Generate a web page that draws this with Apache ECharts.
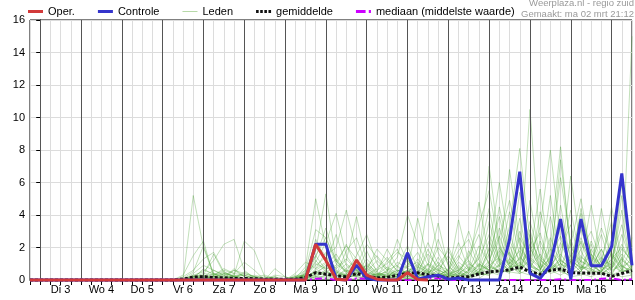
<!DOCTYPE html>
<html><head><meta charset="utf-8">
<script src="https://cdn.jsdelivr.net/npm/echarts@6/dist/echarts.min.js"></script>
<style>html,body{margin:0;padding:0;background:#fff}#c{width:635px;height:300px}</style>
</head><body><div id="c"></div>
<script>
// time axis: hours since Di 3 00:00, one value every 6 hours from -6 (ma 2 18:00)
const startHour = -6, stepHours = 6;
const dayLabels = ['Di 3','Wo 4','Do 5','Vr 6','Za 7','Zo 8','Ma 9','Di 10','Wo 11','Do 12','Vr 13','Za 14','Zo 15','Ma 16'];
const dayStarts = [0,24,48,72,96,120,144,168,192,216,240,264,288,312,336];
const yTicks = [0,2,4,6,8,10,12,14,16];
const headerLines = ['Weerplaza.nl - regio zuid', 'Gemaakt: ma 02 mrt 21:12'];

const oper = [0,0,0,0,0,0,0,0,0,0, 0,0,0,0,0,0,0,0,0,0, 0,0,0,0,0,0,0,0,
  2.2,1.2,0.05,0,1.23,0.3,0.05,0,0,0.45,0.03,0];
const controle = [0,0,0,0,0,0,0,0,0,0, 0,0,0,0,0,0,0,0,0,0, 0,0,0,0,0,0,0,0,
  2.2,2.2,0.05,0,0.92,0.1,0,0,0,1.68,0.05,0.2,0.3,0.05,0.12,0,0,0,0,2.5,
  6.67,0.41,0.1,0.92,3.75,0.05,3.75,0.88,0.88,2.05,6.56,0.9];
const gemiddelde = [0,0,0,0,0,0,0,0,0,0,0,0,0,0,0,
  0.06,0.18,0.2,0.15,0.13,0.1,0.1,0.08,0.05,0.05,0.05,
  0.05,0.15,0.45,0.36,0.25,0.2,0.4,0.25,0.13,0.17,0.28,0.42,
  0.45,0.32,0.25,0.12,0.18,0.2,0.38,0.5,0.55,0.62,
  0.8,0.5,0.35,0.6,0.68,0.45,0.43,0.42,0.42,0.22,0.4,0.58];
const mediaan = [0,0,0,0,0,0,0,0,0,0,0,0,0,0,0,
  0,0,0,0,0,0,0,0,0,0,0,
  0,0,0.08,0.1,0,0,0.1,0.08,0,0,0,0,
  0,0.12,0.1,0,0,0,0,0,0,0,
  0,0,0,0,0.05,0,0,0,0.08,0.1,0,0.05];

const lid01 = [0,0,0,0,0,0,0,0,0,0,0,0,0,0,0, 0,5.2,2.0,0.3,0.1,0,0,0,0,0,0, 0.1,0.8,5.0,2.0,0.5,0.3,0.6,0.2,0.1,0.3,0.2,0.1, 0.2,0.4,1.1,0.3,0.2,0.6,1.4,7.0,2.2,0.8, 1.3,10.5,2.1,0.9,1.6,0.7,2.4,1.1,0.4,0.8,2.2,1.0];
const lid02 = [0,0,0,0,0,0,0,0,0,0,0,0,0,0,0, 0.3,1.5,2.4,0.2,0.1,0.3,0,0,0,0,0, 0,0.5,1.8,5.3,1.2,0.4,0.2,1.0,0.5,0.2,0.1,0.6, 3.8,1.2,0.5,0.2,0.8,0.3,0.5,1.9,6.0,2.1, 0.6,1.2,3.3,8.0,2.5,1.1,0.5,1.9,0.8,0.3,1.4,0.6];
const lid03 = [0,0,0,0,0,0,0,0,0,0,0,0,0,0,0, 0.2,0.6,1.3,1.7,0.5,0.2,0,0,0,0.2,0, 0.2,0.3,1.1,2.3,4.1,1.5,0.6,0.3,0.2,0.1,0.5,1.2, 0.6,4.8,1.7,0.4,0.3,1.0,0.6,0.9,1.4,6.8, 2.3,0.9,0.6,2.1,8.2,1.5,0.9,0.6,4.4,1.2,0.5,0.8];
const lid04 = [0,0,0,0,0,0,0,0,0,0,0,0,0,0,0, 0,0.3,0.5,1.2,2.2,2.5,0.6,0.1,0,0,0, 0,0.4,2.2,1.5,2.0,4.3,1.8,0.5,0.3,0.8,0.4,0.2, 0.3,0.9,3.5,0.8,0.4,0.2,0.7,2.4,1.0,3.3, 8.1,2.5,1.2,0.7,1.0,6.4,1.8,0.6,0.9,2.5,0.7,0.3];
const lid05 = [0,0,0,0,0,0,0,0,0,0,0,0,0,0,0, 0,0.2,0.3,0.2,0.4,0.3,2.4,1.8,0.2,0,0.1, 0.1,0.2,0.9,1.4,0.7,1.2,3.9,1.1,0.4,0.2,0.3,0.5, 1.0,0.6,0.3,2.05,0.6,0.2,0.4,1.1,3.2,1.5, 0.9,3.6,1.4,0.8,7.4,2.0,1.1,4.6,1.3,0.9,5.9,1.8];
const lid06 = [0,0,0,0,0,0,0,0,0,0,0,0,0,0,0, 0.1,0.5,2.1,0.4,0.1,0.7,0.2,0,0,0.7,0.2, 0,0.6,3.1,2.6,1.0,0.5,1.5,2.8,1.0,0.4,0.2,0.1, 0.1,0.2,0.6,0.3,3.7,1.1,0.3,0.5,2.0,1.0, 1.8,0.7,0.3,1.5,2.7,1.0,4.1,1.6,0.6,1.1,0.4,15.0];
const lid07 = [0,0,0,0,0,0,0,0,0,0,0,0,0,0,0, 0,0.4,0.9,0.6,0.3,0.1,0.5,0.2,0.1,0,0, 0.3,0.2,1.4,3.2,1.1,2.1,1.3,0.6,1.9,1.2,0.6,0.3, 0.5,1.6,0.8,0.4,1.3,3.0,1.2,0.6,0.9,1.7, 0.5,2.2,0.9,3.9,1.2,0.8,2.6,1.0,2.8,0.7,1.6,0.9];
const lid08 = [0,0,0,0,0,0,0,0,0,0,0,0,0,0,0, 0,0.2,0.3,1.6,0.4,0.2,0.3,0,0,0.3,0.2, 0,0.1,0.6,1.0,2.8,0.9,0.4,1.8,0.5,1.9,0.8,0.4, 1.3,0.4,2.5,0.9,0.2,0.5,4.8,1.3,0.7,0.4, 3.0,1.1,0.5,0.8,1.9,3.4,0.9,0.4,1.2,3.6,0.8,1.2];
const lid09 = [0,0,0,0,0,0,0,0,0,0,0,0,0,0,0, 0,0.1,0.7,0.3,0.6,0.4,1.1,0.6,0,0,0, 0,0.3,2.5,1.2,0.3,0.2,0.8,0.4,0.3,0.5,2.5,1.1, 0.4,0.2,0.3,0.6,1.8,2.5,0.8,3.6,1.2,4.2, 1.5,0.6,2.4,1.1,0.5,1.3,0.7,2.2,0.6,1.0,4.3,0.5];
const lid10 = [0,0,0,0,0,0,0,0,0,0,0,0,0,0,0, 0,0,0.2,0.6,0.3,0,0,0.2,0.3,0.1,0, 0.2,0.1,0.4,0.9,1.6,0.6,0.2,0.5,1.2,0.6,1.4,4.0, 2.2,0.9,0.4,0.2,0.5,1.4,2.8,0.9,4.5,1.6, 0.7,4.9,1.3,0.6,2.3,0.9,1.5,0.8,1.9,0.5,1.1,2.6];
const lid11 = [0,0,0,0,0,0,0,0,0,0,0,0,0,0,0, 0,0.1,0.2,0.1,0.3,0.6,0.2,0,0,0,0, 0,0.2,1.2,0.5,0.3,1.8,2.6,0.8,0.2,0.1,0.8,2.1, 0.7,2.3,1.0,0.3,0.9,0.4,1.6,4.4,1.1,0.6, 2.6,1.4,0.8,5.2,1.0,0.6,3.1,1.3,0.7,2.0,0.9,0.4];
const lid12 = [0,0,0,0,0,0,0,0,0,0,0,0,0,0,0, 0,0.2,0.4,0.3,0.7,0.4,0.3,0.1,0,0,0, 0.4,1.1,0.7,1.7,0.6,0.3,0.4,1.3,0.6,1.0,1.7,1.3, 0.3,0.6,2.0,1.2,0.4,0.8,0.5,1.2,2.7,1.0, 5.4,2.0,0.7,1.3,3.6,1.4,0.6,1.1,3.2,1.5,0.6,1.4];
const lid13 = [0,0,0,0,0,0,0,0,0,0,0,0,0,0,0, 0,0,0.1,0.2,0.1,0.3,0.1,0,0,0,0, 0,0.2,0.5,0.8,0.4,1.0,0.5,0.3,0.7,1.4,0.5,0.9, 1.7,0.5,0.2,0.7,2.3,0.6,0.3,2.0,0.8,2.9, 1.0,0.6,4.2,2.0,0.7,2.2,5.0,1.4,0.8,0.6,2.8,1.0];
const lid14 = [0,0,0,0,0,0,0,0,0,0,0,0,0,0,0, 0,0.3,0.1,0,0,0.2,0.4,0.2,0,0,0, 0.1,0.4,1.5,0.6,0.2,0.7,1.2,0.6,0.2,0.6,0.9,0.3, 0.4,1.9,0.6,1.5,0.5,0.2,1.0,0.6,1.8,0.9, 0.4,2.8,1.0,0.5,1.4,4.3,1.1,0.9,0.5,1.7,0.6,2.1];
const lid15 = [0,0,0,0,0,0,0,0,0,0,0,0,0,0,0, 0,0,0,0.3,0.5,0.2,0,0,0.1,0.2,0, 0,0.1,0.3,0.6,1.3,0.5,0.9,0.4,0.3,0.2,0.6,0.5, 0.9,0.3,1.4,0.5,0.2,1.8,0.7,0.4,1.3,0.7, 3.8,0.8,1.6,0.6,1.2,0.8,1.9,3.0,1.1,0.4,1.3,0.6];
const lid16 = [0,0,0,0,0,0,0,0,0,0,0,0,0,0,0, 0,0.1,0.3,0.1,0,0,0.1,0.3,0.1,0,0, 0,0,0.7,1.1,0.5,0.2,0.3,0.8,1.5,0.7,0.3,0.6, 0.2,0.7,0.3,0.2,1.1,0.6,2.1,1.0,0.5,2.4, 1.2,3.1,0.6,1.9,0.8,2.5,0.7,1.6,0.9,1.2,3.4,0.8];
const lid17 = [0,0,0,0,0,0,0,0,0,0,0,0,0,0,0, 0,0.2,0.1,0.4,0.2,0.1,0,0,0,0,0, 0.2,0.3,0.4,0.5,0.8,1.3,0.6,0.2,0.4,0.3,1.1,0.7, 0.6,0.4,0.9,0.6,0.3,0.2,0.5,1.6,3.9,1.3, 0.8,1.8,2.9,0.7,4.6,1.1,0.5,2.4,1.0,0.7,1.9,1.2];
const lid18 = [0,0,0,0,0,0,0,0,0,0,0,0,0,0,0, 0,0,0.2,0.1,0.1,0,0,0,0,0,0, 0.1,0.2,0.3,0.4,0.2,0.6,0.4,0.9,0.3,0.2,0.4,0.8, 1.1,0.3,0.2,0.4,0.6,1.2,0.4,0.3,0.9,0.5, 2.0,0.9,0.4,1.2,0.6,1.5,2.3,0.8,1.4,0.6,0.9,0.5];
const lid19 = [0,0,0,0,0,0,0,0,0,0,0,0,0,0,0, 0,0.1,0,0,0.1,0.2,0.3,0.1,0,0,0, 0,0.1,0.2,0.5,0.3,0.2,0.7,0.3,0.2,0.4,0.2,0.3, 0.2,0.5,0.7,0.2,0.4,0.3,0.9,0.6,0.4,1.1, 0.6,1.3,0.7,0.5,1.0,0.4,1.2,0.7,0.3,0.9,0.5,0.7];
const lid20 = [0,0,0,0,0,0,0,0,0,0,0,0,0,0,0, 0,0,0.1,0,0,0,0,0,0,0,0, 0,0.1,0.2,0.2,0.1,0.3,0.2,0.1,0.1,0.2,0.1,0.2, 0.3,0.2,0.1,0.3,0.2,0.1,0.3,0.8,0.6,0.5, 0.4,0.7,0.3,0.9,0.5,0.3,0.8,0.5,0.6,0.4,0.2,0.3];
const lid21 = [0,0,0,0,0,0,0,0,0,0,0,0,0,0,0, 0,0,0,0,0,0,0,0.1,0.2,0.1,0, 0,0,0.1,0.3,0.1,0,0.1,0.2,0,0.1,0.2,0.1, 0.1,0.3,0.2,0.1,0,0.2,0.4,0.3,1.0,0.6, 1.1,0.4,0.2,0.6,0.3,0.7,0.4,0.2,0.5,0.3,0.6,0.4];
const lid22 = [0,0,0,0,0,0,0,0,0,0,0,0,0,0,0, 0,0,0,0,0.1,0,0,0,0,0,0, 0,0,0.2,0.1,0,0.1,0.3,0.1,0.2,0,0,0.1, 0.2,0.1,0.4,0.2,0.1,0,0.1,0.5,0.3,0.8, 0.5,0.3,0.9,0.4,0.6,0.2,0.3,0.6,0.4,0.2,0.4,0.9];
const lid23 = [0,0,0,0,0,0,0,0,0,0,0,0,0,0,0, 0,0,0,0,0,0,0,0,0,0,0, 0,0.2,0.5,0.3,0.2,0.4,0.9,2.2,1.4,0.6,0.3,0.2, 0.5,1.0,0.4,0.3,0.6,1.5,3.4,5.5,2.0,0.8, 0.9,2.0,0.7,1.4,6.3,2.2,0.6,1.0,0.5,1.6,0.8,0.6];
const lid24 = [0,0,0,0,0,0,0,0,0,0,0,0,0,0,0, 0,0.1,0.2,0.2,0.1,0.6,0.4,0.2,0,0,0, 0,0.3,1.0,0.7,0.9,2.2,0.8,0.3,0.2,1.2,1.9,0.7, 0.4,0.2,0.9,1.8,0.7,0.4,1.0,0.6,2.6,4.9, 2.1,1.0,0.5,0.7,1.3,0.6,4.4,1.5,0.9,4.5,1.2,0.8];
const lid25 = [0,0,0,0,0,0,0,0,0,0,0,0,0,0,0, 0,0,0,0.2,0.4,0.2,0.1,0,0,0,0, 0.2,0.6,2.0,1.3,0.4,0.3,0.6,0.9,0.4,0.3,0.6,0.4, 0.8,0.5,0.3,0.6,1.5,0.7,0.4,0.9,0.5,1.3, 0.5,1.6,5.6,1.0,0.6,1.1,0.8,0.7,1.9,0.6,5.2,0.9];
const lid26 = [0,0,0,0,0,0,0,0,0,0,0,0,0,0,0, 0,0.2,0.6,0.4,0.2,0.1,0,0,0,0,0, 0,0.4,1.5,2.6,1.2,0.5,0.3,0.7,0.3,0.5,0.3,0.6, 0.3,1.0,0.6,0.4,0.2,0.6,1.3,2.8,1.2,0.5, 1.4,0.8,0.6,2.6,1.0,0.7,1.4,0.9,0.5,1.3,2.0,1.1];
const leden = [lid01,lid02,lid03,lid04,lid05,lid06,lid07,lid08,lid09,lid10,lid11,lid12,lid13,
  lid14,lid15,lid16,lid17,lid18,lid19,lid20,lid21,lid22,lid23,lid24,lid25,lid26];

function pairs(vals) { return vals.map((v, i) => [startHour + i * stepHours, v]); }

const RED = '#d23a3a', BLUE = '#3535cc', GREEN = 'rgba(70,160,45,0.33)', MAG = '#cc00ff';
const FONT = 'Arial, "Liberation Sans", sans-serif';

const series = [];
series.push({
  type: 'line', data: [], silent: true, z: 1,
  markLine: {
    silent: true, symbol: ['none', 'none'], animation: false,
    label: { show: false }, emphasis: { disabled: true },
    lineStyle: { color: '#555', width: 1, type: 'solid' },
    data: dayStarts.map(v => ({ xAxis: v }))
  }
});
leden.forEach(arr => series.push({
  name: 'Leden', type: 'line', data: pairs(arr), symbol: 'none', silent: true,
  itemStyle: { color: '#b7d9a8' }, lineStyle: { color: GREEN, width: 1 }, z: 2
}));
series.push({ name: 'mediaan (middelste waarde)', type: 'line', data: pairs(mediaan), symbol: 'none', silent: true, clip: false,
  itemStyle: { color: MAG }, lineStyle: { color: MAG, width: 2, type: [7, 3, 2, 3] }, z: 3 });
series.push({ name: 'gemiddelde', type: 'line', data: pairs(gemiddelde), symbol: 'none', silent: true, clip: false,
  itemStyle: { color: '#000' }, lineStyle: { color: '#111', width: 3, type: [3, 2], cap: 'butt' }, z: 4 });
series.push({ name: 'Controle', type: 'line', data: pairs(controle), symbol: 'none', silent: true, clip: false,
  itemStyle: { color: BLUE }, lineStyle: { color: BLUE, width: 3 }, z: 5 });
series.push({ name: 'Oper.', type: 'line', data: pairs(oper), symbol: 'none', silent: true, clip: false,
  itemStyle: { color: RED }, lineStyle: { color: RED, width: 3 }, z: 6 });

const chart = echarts.init(document.getElementById('c'), null, { renderer: 'canvas' });
chart.setOption({
  animation: false,
  backgroundColor: '#fff',
  textStyle: { fontFamily: FONT },
  graphic: [
    { type: 'text', x: 634, y: 3.5, silent: true,
      style: { text: headerLines[0], font: '9.5px ' + FONT, fill: '#9a9a9a', align: 'right', verticalAlign: 'middle', textAlign: 'right', textVerticalAlign: 'middle' } },
    { type: 'text', x: 634, y: 14, silent: true,
      style: { text: headerLines[1], font: '9.5px ' + FONT, fill: '#9a9a9a', align: 'right', verticalAlign: 'middle', textAlign: 'right', textVerticalAlign: 'middle' } }
  ],
  legend: {
    left: 28, top: 6, padding: 0, itemWidth: 15, itemHeight: 14, itemGap: 23, selectedMode: false,
    textStyle: { fontFamily: FONT, fontSize: 11, color: '#000' },
    data: [
      { name: 'Oper.', icon: 'path://M0,0h15v3h-15z', itemStyle: { color: RED } },
      { name: 'Controle', icon: 'path://M0,0h15v3h-15z', itemStyle: { color: BLUE } },
      { name: 'Leden', icon: 'path://M0,0h15v1h-15z', itemStyle: { color: '#b7d9a8' } },
      { name: 'gemiddelde', icon: 'path://M0,0h2.5v3h-2.5zM4,0h2.5v3h-2.5zM8,0h2.5v3h-2.5zM12,0h2.5v3h-2.5z', itemStyle: { color: '#111' } },
      { name: 'mediaan (middelste waarde)', icon: 'path://M0,0h9v3h-9zM12,0h2v3h-2z', itemStyle: { color: MAG } }
    ]
  },
  grid: { left: 30, right: 1, top: 20, bottom: 20, show: true, borderColor: '#000', borderWidth: 1, backgroundColor: 'transparent' },
  xAxis: {
    type: 'value', min: startHour, max: 348, interval: stepHours,
    axisLine: { show: true, onZero: false, lineStyle: { color: '#000', width: 1 } },
    axisTick: { show: true, length: 5, lineStyle: { color: '#000' } },
    axisLabel: {
      margin: 4, fontSize: 11, color: '#000', fontFamily: FONT, showMinLabel: true, showMaxLabel: true,
      formatter: v => {
        const k = (v - 12) / 24;
        return (Number.isInteger(k) && k >= 0 && k < dayLabels.length) ? dayLabels[k] : '';
      }
    },
    splitLine: { show: true, lineStyle: { color: '#dcdcdc', width: 1 } }
  },
  yAxis: {
    type: 'value', min: yTicks[0], max: yTicks[yTicks.length - 1], interval: yTicks[1] - yTicks[0],
    axisLine: { show: true, lineStyle: { color: '#000', width: 1 } },
    axisTick: { show: true, length: 4, lineStyle: { color: '#000' } },
    axisLabel: { margin: 5, fontSize: 11, color: '#000', fontFamily: FONT },
    splitLine: { show: true, lineStyle: { color: '#dcdcdc', width: 1 } }
  },
  series: series
});
</script>
</body></html>
